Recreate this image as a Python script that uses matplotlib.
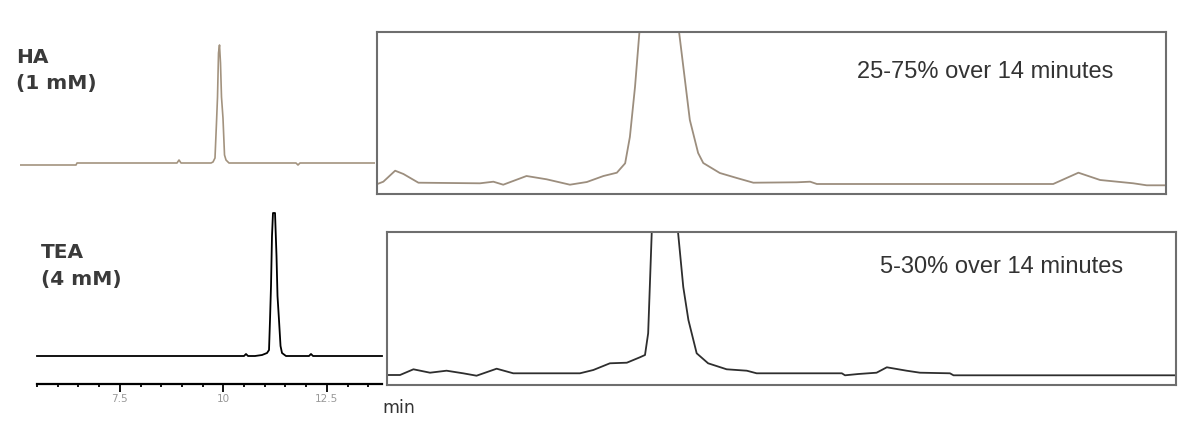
import matplotlib
matplotlib.use("Agg")
import matplotlib.pyplot as plt
from matplotlib.ticker import MultipleLocator, FixedLocator, FixedFormatter

# ---------------- data ----------------
# HA (1 mM) full chromatogram (time in min, signal in arbitrary units)
ha_time = [5.000, 6.353, 6.377, 8.792, 8.841, 8.889, 9.614, 9.662, 9.710, 9.746,
           9.771, 9.795, 9.819, 9.843, 9.867, 9.903, 9.940, 9.976, 10.048,
           11.667, 11.715, 11.763, 13.575]
ha_signal = [-2, -2, 0, 0, 3, 0, 0, 1, 5, 40, 66, 110, 118, 100, 66, 45, 8, 3, 0,
             0, -2, 0, 0]

# TEA (4 mM) full chromatogram
tea_time = [5.500, 10.500, 10.548, 10.597, 10.766, 10.935, 11.056, 11.104, 11.128,
            11.152, 11.176, 11.200, 11.249, 11.285, 11.309, 11.345, 11.382, 11.418,
            11.514, 12.070, 12.118, 12.167, 13.833]
tea_signal = [0, 0, 2, 0, 0, 1, 3, 6, 36, 70, 120, 143, 143, 100, 60, 36, 10, 3,
              0, 0, 2, 0, 0]

# HA zoomed baseline, 25-75% over 14 minutes
ha_zoom_time = [9.101, 9.116, 9.146, 9.167, 9.205, 9.361, 9.395, 9.420, 9.479, 9.530,
                9.589, 9.632, 9.674, 9.708, 9.729, 9.741, 9.754, 9.765, 9.815, 9.866,
                9.893, 9.914, 9.927, 9.969, 10.012, 10.054, 10.164, 10.198, 10.215,
                10.814, 10.878, 10.933, 11.017, 11.051, 11.097]
ha_zoom_signal = [-1, 1.3, 12.3, 9, 0.3, -0.3, 1.3, -1.7, 7, 3.7,
                  -1.7, 1, 7, 10.3, 19.7, 46, 96, 150, 900, 150,
                  63, 30, 20, 10, 5, 0.3, 0.7, 1.3, -1,
                  -1, 10.3, 3, -0.3, -2.3, -2.3]

# TEA zoomed baseline, 5-30% over 14 minutes
tea_zoom_time = [10.501, 10.533, 10.567, 10.609, 10.651, 10.693, 10.727, 10.778, 10.820,
                 10.989, 11.023, 11.065, 11.108, 11.141, 11.154, 11.162, 11.171, 11.205,
                 11.238, 11.251, 11.264, 11.285, 11.314, 11.361, 11.412, 11.437, 11.653,
                 11.661, 11.695, 11.741, 11.767, 11.817, 11.851, 11.927, 11.936, 12.497]
tea_zoom_signal = [-2, -2, 3.7, 0.3, 2.3, -0.3, -2.7, 4.3, -0.3,
                   -0.3, 3, 9.7, 10.3, 15.7, 18, 39.7, 139.7, 900,
                   139.7, 86, 53, 19.7, 9.7, 3.7, 2.3, -0.3, -0.3,
                   -2.3, -1, 0.3, 5.7, 2.3, 0.3, -0.3, -2.3, -2.3]

tick_values = [7.5, 10, 12.5]
tick_labels = ["7.5", "10", "12.5"]
ha_label = "HA\n(1 mM)"
tea_label = "TEA\n(4 mM)"
ha_gradient = "25-75% over 14 minutes"
tea_gradient = "5-30% over 14 minutes"
x_unit = "min"

# ---------------- layout ----------------
W, H = 1182, 424
fig = plt.figure(figsize=(W / 100, H / 100), dpi=100)
fig.patch.set_facecolor("white")


def ax_at(l, t, r, b):
    return fig.add_axes([l / W, 1 - b / H, (r - l) / W, (b - t) / H])


def fx(px):
    return px / W


def fy(py):
    return 1 - py / H


ha_color = "#a3937f"
box_color = "#6e6e6e"
text_color = "#333333"

# HA full trace
ax1 = ax_at(20, 30, 375, 175)
ax1.plot(ha_time, ha_signal, color=ha_color, lw=1.2)
ax1.set_xlim(5.0, 13.575)
ax1.set_ylim(-12, 133)
ax1.axis("off")

# TEA full trace with time axis
ax2 = ax_at(37, 200, 382, 384)
ax2.plot(tea_time, tea_signal, color="black", lw=1.3, clip_on=False)
ax2.set_xlim(5.5, 13.833)
ax2.set_ylim(-28, 156)
for s in ("top", "left", "right"):
    ax2.spines[s].set_visible(False)
ax2.spines["bottom"].set_linewidth(1.6)
ax2.spines["bottom"].set_color("black")
ax2.set_yticks([])
ax2.xaxis.set_major_locator(FixedLocator(tick_values))
ax2.xaxis.set_major_formatter(FixedFormatter(tick_labels))
ax2.xaxis.set_minor_locator(MultipleLocator(0.5))
ax2.tick_params(axis="x", which="major", length=5.5, width=1.3, color="black",
                labelsize=7.5, labelcolor="#999999", pad=2)
ax2.tick_params(axis="x", which="minor", length=2.5, width=1.3, color="black")
ax2.patch.set_alpha(0)

# HA zoom box
ax3 = ax_at(377, 32, 1166, 194)
ax3.plot(ha_zoom_time, ha_zoom_signal, color="#9c8e7e", lw=1.3)
ax3.set_xlim(9.1, 11.1)
ax3.set_ylim(-11, 151)
ax3.set_xticks([])
ax3.set_yticks([])
for s in ax3.spines.values():
    s.set_color(box_color)
    s.set_linewidth(1.5)

# TEA zoom box
ax4 = ax_at(387, 232, 1176, 385)
ax4.plot(tea_zoom_time, tea_zoom_signal, color="#2e2e2e", lw=1.3)
ax4.set_xlim(10.5, 12.5)
ax4.set_ylim(-12, 141)
ax4.set_xticks([])
ax4.set_yticks([])
for s in ax4.spines.values():
    s.set_color(box_color)
    s.set_linewidth(1.5)

# texts
fig.text(fx(16), fy(48), ha_label, ha="left", va="top", fontsize=14.5,
         fontweight="bold", color="#3a3a3a", linespacing=1.45, family="DejaVu Sans")
fig.text(fx(41), fy(243), tea_label, ha="left", va="top", fontsize=14.5,
         fontweight="bold", color="#3a3a3a", linespacing=1.5, family="DejaVu Sans")
fig.text(fx(857), fy(72), ha_gradient, ha="left", va="center", fontsize=17,
         color=text_color, family="Liberation Sans")
fig.text(fx(880), fy(267), tea_gradient, ha="left", va="center", fontsize=17,
         color=text_color, family="Liberation Sans")
fig.text(fx(382), fy(408), x_unit, ha="left", va="center", fontsize=12.5,
         color=text_color, family="DejaVu Sans")

fig.savefig("out.png", dpi=100, facecolor="white")
